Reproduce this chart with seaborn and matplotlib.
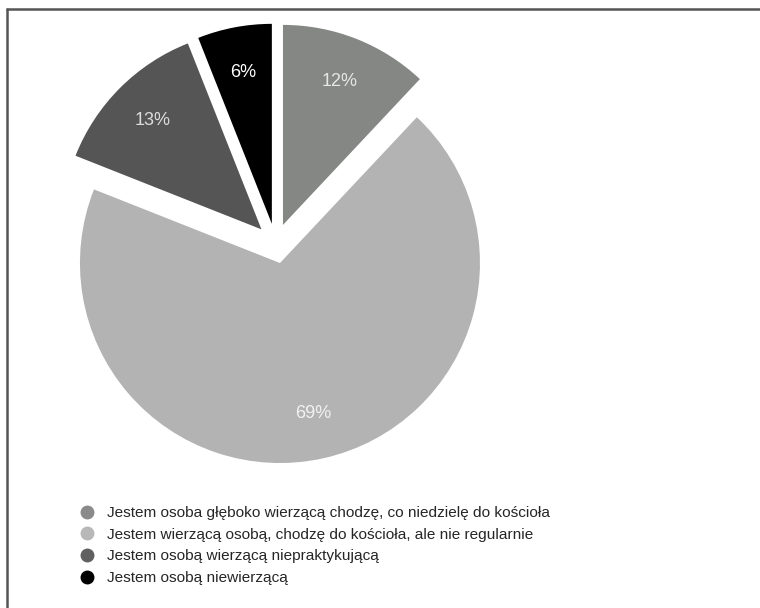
import matplotlib
matplotlib.use("Agg")
import matplotlib.pyplot as plt
import seaborn as sns
from matplotlib.lines import Line2D

sns.set_style("white")
plt.rcParams['font.family'] = ['Liberation Sans', 'DejaVu Sans']

labels = [
    "Jestem osoba głęboko wierzącą chodzę, co niedzielę do kościoła",
    "Jestem wierzącą osobą, chodzę do kościoła, ale nie regularnie",
    "Jestem osobą wierzącą niepraktykującą",
    "Jestem osobą niewierzącą",
]
values = [12, 69, 13, 6]
colors = ["#858785", "#b3b3b3", "#555555", "#000000"]
legend_colors = ["#8a8a8a", "#b8b8b8", "#606060", "#000000"]
pct_colors = ["#e6e6e6", "#f2f2f2", "#dcdcdc", "#ffffff"]

W, H = 760, 608
fig = plt.figure(figsize=(W / 100, H / 100), dpi=100)
fig.patch.set_facecolor("white")

cx, cy = 275.6, 243.5
half = 300
ax = fig.add_axes([(cx - half) / W, (H - cy - half) / H, 2 * half / W, 2 * half / H])

wedges, texts, autotexts = ax.pie(
    values, colors=colors, startangle=90, counterclock=False,
    explode=[0.1] * len(values), radius=1.0,
    autopct=lambda p: f"{p:.0f}%", pctdistance=0.77,
    wedgeprops=dict(linewidth=0),
    textprops=dict(fontsize=13),
)
for t, c in zip(autotexts, pct_colors):
    t.set_color(c)
ax.set_xlim(-1.5, 1.5)
ax.set_ylim(-1.5, 1.5)
ax.set_aspect("equal")
ax.axis("off")

handles = [Line2D([0], [0], marker="o", linestyle="none", markersize=9,
                  markerfacecolor=c, markeredgecolor=c) for c in legend_colors]
fig.legend(handles, labels, loc="upper left",
           bbox_to_anchor=(79 / W, 1 - 506 / H), frameon=False,
           fontsize=11.1, handlelength=1.0, handletextpad=0.83,
           labelspacing=0.5, borderaxespad=0, borderpad=0)

# outer frame
fig.add_artist(Line2D([7 / W, 7 / W], [0, 1 - 9 / H], color="#555555", linewidth=1.8,
                      transform=fig.transFigure))
fig.add_artist(Line2D([7 / W, 1], [1 - 9 / H, 1 - 9 / H], color="#555555", linewidth=1.8,
                      transform=fig.transFigure))

fig.savefig("out.png", dpi=100, facecolor="white")
